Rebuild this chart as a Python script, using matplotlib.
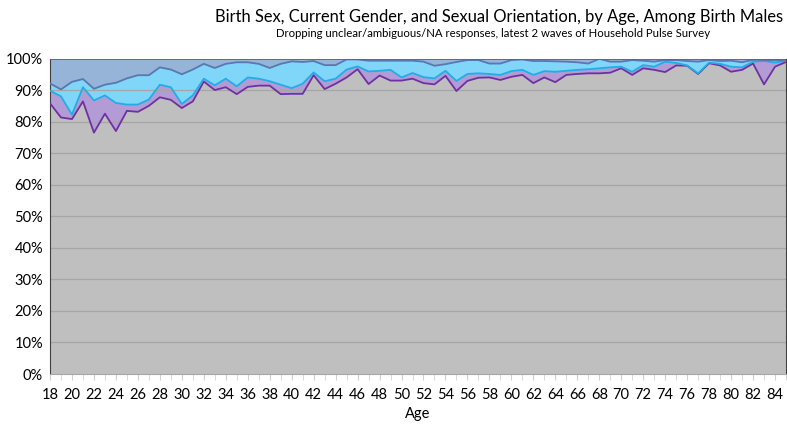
import numpy as np
import matplotlib
matplotlib.use('Agg')
import matplotlib.pyplot as plt
from matplotlib.ticker import MultipleLocator, FuncFormatter

plt.rcParams['font.family'] = ['Lato', 'DejaVu Sans']

ages = list(range(18, 86))

# cumulative shares (%), bottom layer first
top_gray = [85.8, 81.3, 80.8, 86.4, 76.5, 82.5, 77.0, 83.4, 83.1, 85.0,
            87.7, 86.9, 84.3, 86.4, 92.7, 90.0, 90.9, 88.7, 91.0, 91.4,
            91.4, 88.7, 88.8, 88.8, 94.7, 90.3, 92.0, 94.0, 96.6, 91.9,
            94.6, 93.0, 93.0, 93.6, 92.2, 91.8, 94.5, 89.7, 92.9, 93.9,
            94.0, 93.2, 94.2, 94.8, 92.2, 94.0, 92.5, 94.8, 95.1, 95.3,
            95.3, 95.5, 96.9, 94.8, 96.9, 96.4, 95.7, 97.8, 97.7, 95.1,
            98.5, 97.8, 95.8, 96.4, 98.4, 91.8, 97.4, 98.9]
top_purple = [89.8, 88.0, 82.2, 90.9, 86.7, 88.3, 85.9, 85.4, 85.4, 87.0,
              91.7, 90.9, 85.6, 88.3, 93.6, 91.5, 93.6, 91.2, 94.0, 93.6,
              92.8, 91.7, 90.6, 92.0, 95.6, 92.8, 93.6, 96.5, 97.5, 95.9,
              96.1, 96.4, 94.0, 95.4, 94.1, 93.7, 96.1, 92.9, 95.1, 95.3,
              95.1, 94.8, 96.0, 96.4, 94.8, 96.0, 95.8, 96.1, 96.4, 96.6,
              96.9, 97.2, 97.4, 95.8, 97.9, 97.4, 99.0, 98.6, 97.8, 95.3,
              98.7, 98.3, 97.4, 97.2, 99.0, 99.2, 98.7, 99.3]
top_cyan = [92.1, 90.2, 92.6, 93.5, 90.4, 91.7, 92.3, 93.7, 94.7, 94.7,
            97.2, 96.5, 95.0, 96.5, 98.3, 97.0, 98.3, 98.8, 98.8, 98.3,
            97.0, 98.3, 99.1, 98.9, 99.2, 97.9, 97.9, 99.7, 99.7, 99.3,
            99.3, 99.3, 99.3, 99.3, 99.0, 97.7, 98.2, 98.9, 99.5, 99.5,
            98.4, 98.4, 99.5, 99.7, 99.2, 99.2, 99.1, 99.0, 98.8, 98.4,
            99.9, 99.0, 99.0, 99.5, 99.3, 99.0, 99.5, 99.5, 99.2, 99.0,
            99.5, 99.2, 99.3, 98.8, 99.6, 99.5, 99.4, 99.4]
top_all = [100.0] * len(ages)

fig = plt.figure(figsize=(7.87, 4.29), dpi=100)
ax = fig.add_axes([50/787, 55/429, 736/787, 315.5/429])

x = np.array(ages)
base = np.zeros(len(ages))
layers = [(base, top_gray, '#BFBFBF', '#7030A0'),
          (top_gray, top_purple, '#B39BD6', '#1FAEE8'),
          (top_purple, top_cyan, '#80D6F8', '#5878AE'),
          (top_cyan, top_all, '#95B4D8', '#E0303A')]
for lo, hi, fc, ec in layers:
    ax.fill_between(x, lo, hi, facecolor=fc, edgecolor='none', zorder=1)
for yv in range(10, 100, 10):
    ax.axhline(yv, color='#A6A6A6', lw=0.9, zorder=2)
for lo, hi, fc, ec in layers:
    ax.plot(x, hi, color=ec, lw=1.3, zorder=3)

ax.set_xlim(18, 85)
ax.set_ylim(0, 100)
ax.xaxis.set_major_locator(MultipleLocator(2))
ax.xaxis.set_minor_locator(MultipleLocator(1))
ax.yaxis.set_major_locator(MultipleLocator(10))
ax.yaxis.set_major_formatter(FuncFormatter(lambda v, p: '%d%%' % v))
ax.tick_params(axis='x', which='both', length=4, color='#D0D0D0',
               labelsize=10.5, pad=6)
ax.tick_params(axis='y', length=0, labelsize=10.5, pad=5)
ax.spines['top'].set_visible(False)
ax.spines['left'].set_color('#404040')
ax.spines['right'].set_color('#404040')
ax.spines['bottom'].set_color('#A6A6A6')
ax.set_xlabel('Age', fontsize=10.5, labelpad=4)

fig.text(0.995, 0.96, 'Birth Sex, Current Gender, and Sexual Orientation, by Age, Among Birth Males',
         ha='right', va='center', fontsize=11.9)
fig.text(0.627, 0.922, 'Dropping unclear/ambiguous/NA responses, latest 2 waves of Household Pulse Survey',
         ha='center', va='center', fontsize=8.2)

fig.savefig('out.png', dpi=100)
